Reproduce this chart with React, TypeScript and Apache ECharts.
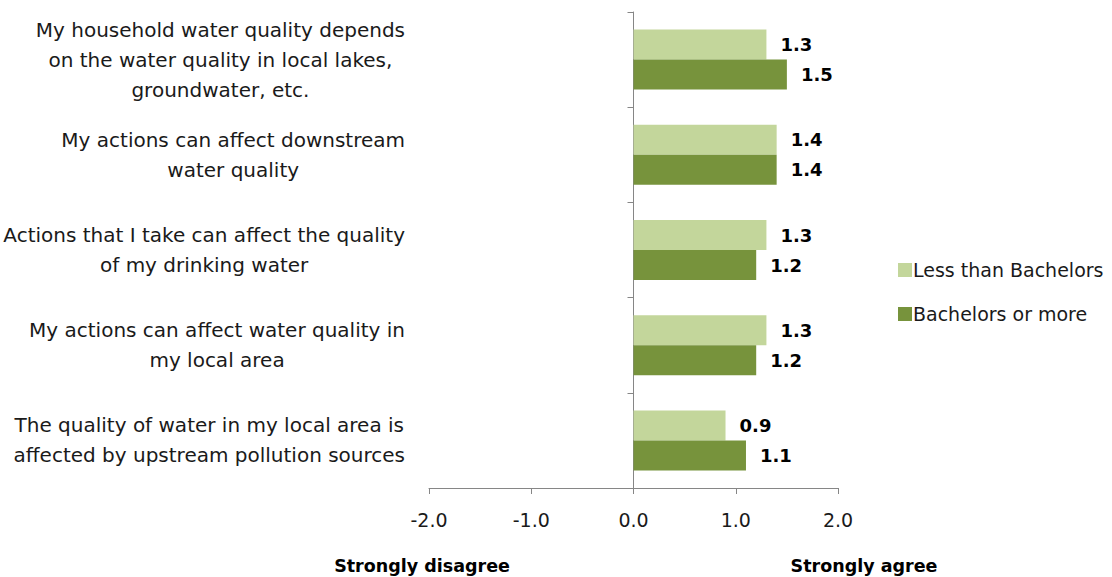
import React, { useEffect, useRef } from 'react';
import * as echarts from 'echarts';

const categories = [
  'My household water quality depends\non the water quality in local lakes,\ngroundwater, etc.',
  'My actions can affect downstream\nwater quality',
  'Actions that I take can affect the quality\nof my drinking water',
  'My actions can affect water quality in\nmy local area',
  'The quality of water in my local area is\naffected by upstream pollution sources',
];
const seriesNames = ['Less than Bachelors', 'Bachelors or more'];
const lessThanBachelors = [1.3, 1.4, 1.3, 1.3, 0.9];
const bachelorsOrMore = [1.5, 1.4, 1.2, 1.2, 1.1];
const xMin = -2;
const xMax = 2;
const xInterval = 1;
const leftNote = 'Strongly disagree';
const rightNote = 'Strongly agree';

const FONT = '"DejaVu Sans", "Open Sans", sans-serif';
const TEXT = '#1a1a1a';
const AXIS = '#868686';
const LIGHT = '#c3d69b';
const DARK = '#77933c';

export default function App() {
  const ref = useRef<HTMLDivElement>(null);
  useEffect(() => {
    if (!ref.current) return;
    const chart = echarts.init(ref.current, undefined, { renderer: 'svg' });
    const labelStyle = {
      show: true,
      position: 'right' as const,
      distance: 14,
      fontFamily: FONT,
      fontSize: 18,
      fontWeight: 'bold' as const,
      color: '#000',
      formatter: (p: any) => Number(p.value).toFixed(1),
    };
    chart.setOption({
      animation: false,
      textStyle: { fontFamily: FONT },
      grid: { left: 429, right: 274, top: 12, bottom: 89, containLabel: false },
      legend: {
        orient: 'vertical',
        left: 893,
        top: 253,
        icon: 'rect',
        itemWidth: 14,
        itemHeight: 14,
        itemGap: 20,
        data: seriesNames,
        textStyle: { fontFamily: FONT, fontSize: 19, color: TEXT, padding: [0, 0, 0, -4], lineHeight: 24 },
      },
      xAxis: {
        type: 'value',
        min: xMin,
        max: xMax,
        interval: xInterval,
        splitLine: { show: false },
        axisLine: { show: true, lineStyle: { color: AXIS, width: 1 } },
        axisTick: { show: true, length: 6, lineStyle: { color: AXIS } },
        axisLabel: {
          fontFamily: FONT,
          fontSize: 19,
          color: TEXT,
          margin: 22,
          formatter: (v: number) => v.toFixed(1),
        },
      },
      yAxis: [
        {
          type: 'category',
          data: categories,
          inverse: true,
          position: 'left',
          axisLine: { show: false, onZero: false },
          axisTick: { show: false },
          splitLine: { show: false },
          axisLabel: {
            margin: 24,
            formatter: (v: string) => v.split('\n').map((l) => `{c|${l}}`).join('\n'),
            rich: {
              c: { align: 'center', fontFamily: FONT, fontSize: 20, lineHeight: 30, color: TEXT },
            },
          },
        },
        {
          type: 'category',
          data: categories,
          inverse: true,
          position: 'left',
          axisLine: { show: true, onZero: true, lineStyle: { color: AXIS, width: 1 } },
          axisTick: { show: true, length: 6, inside: false, lineStyle: { color: AXIS } },
          axisLabel: { show: false },
          splitLine: { show: false },
        },
      ],
      series: [
        {
          name: seriesNames[0],
          type: 'bar',
          yAxisIndex: 0,
          data: lessThanBachelors,
          barWidth: 30,
          barGap: '0%',
          itemStyle: { color: LIGHT },
          label: labelStyle,
        },
        {
          name: seriesNames[1],
          type: 'bar',
          yAxisIndex: 0,
          data: bachelorsOrMore,
          barWidth: 30,
          barGap: '0%',
          itemStyle: { color: DARK },
          label: labelStyle,
        },
      ],
      graphic: [
        {
          type: 'text',
          x: 422,
          y: 566,
          style: { text: leftNote, font: `bold 17.5px ${FONT}`, fill: '#000', align: 'center', verticalAlign: 'middle' },
        },
        {
          type: 'text',
          x: 864,
          y: 566,
          style: { text: rightNote, font: `bold 17.5px ${FONT}`, fill: '#000', align: 'center', verticalAlign: 'middle' },
        },
      ],
    });
    return () => chart.dispose();
  }, []);
  return (
    <div
      ref={ref}
      style={{ position: 'fixed', left: 0, top: 0, width: 1112, height: 577, background: '#fff' }}
    />
  );
}
